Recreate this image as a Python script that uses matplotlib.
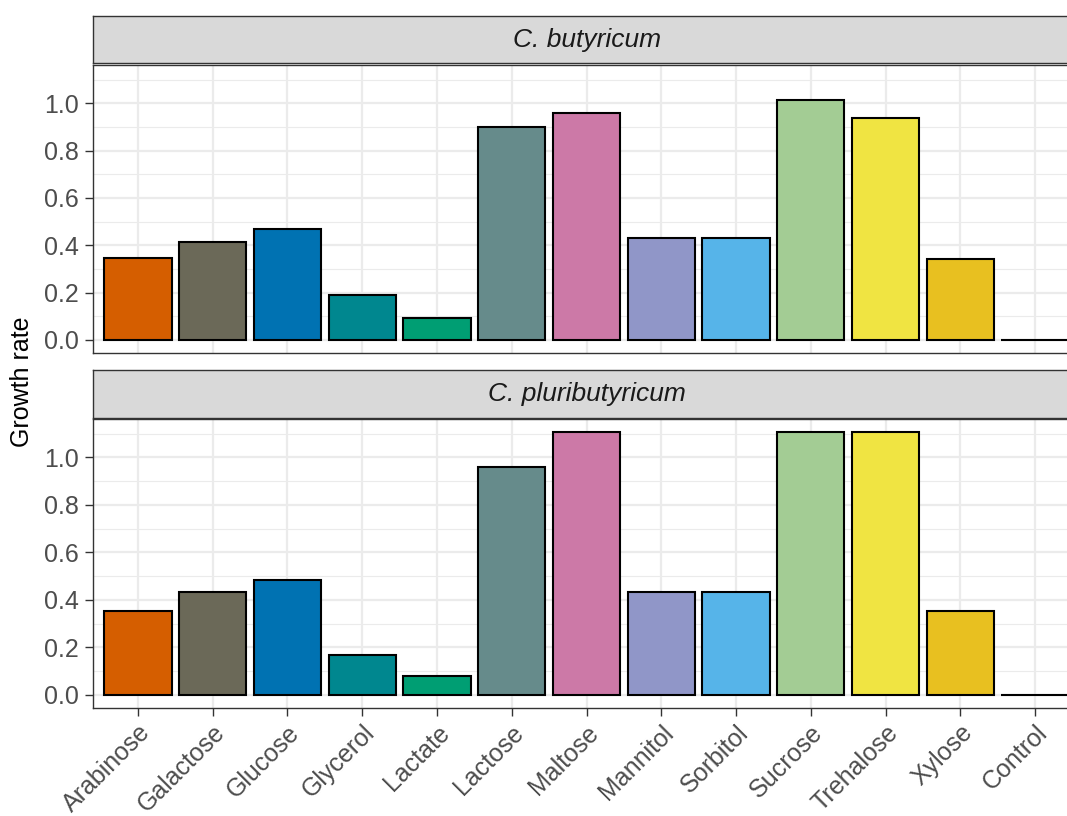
import matplotlib.pyplot as plt

plt.rcParams['font.family'] = ['Liberation Sans', 'DejaVu Sans']

substrates = ["Arabinose", "Galactose", "Glucose", "Glycerol", "Lactate", "Lactose",
              "Maltose", "Mannitol", "Sorbitol", "Sucrose", "Trehalose", "Xylose", "Control"]
butyricum = [0.345, 0.412, 0.471, 0.192, 0.095, 0.899, 0.959, 0.429, 0.431, 1.014, 0.936, 0.343, 0.0]
pluributyricum = [0.352, 0.433, 0.482, 0.167, 0.081, 0.961, 1.107, 0.433, 0.433, 1.107, 1.107, 0.352, 0.0]
colors = ["#D55E00", "#6B6958", "#0072B2", "#00878F", "#009E73", "#668B8B", "#CC79A7",
          "#9096C8", "#56B4E9", "#A3CC94", "#F0E442", "#E8C020", "#000000"]
species = ["C. butyricum", "C. pluributyricum"]

fig = plt.figure(figsize=(10.67, 8.16), dpi=100)

left = 93 / 1067
width = (1080 - 93) / 1067
H = 816


def frac(top_px, bottom_px):
    return 1 - bottom_px / H, (bottom_px - top_px) / H


panels = [((65, 353), (16, 63), butyricum), ((419, 708), (370, 418), pluributyricum)]
x = list(range(len(substrates)))

for i, ((pt, pb), (st, sb), values) in enumerate(panels):
    b, h = frac(pt, pb)
    ax = fig.add_axes([left, b, width, h])
    ax.bar(x, values, width=0.9, color=colors, edgecolor="black", linewidth=1.5, zorder=3)
    ax.set_xlim(-0.6, 12.6)
    ax.set_ylim(-0.055, 1.162)
    ax.set_yticks([0.0, 0.2, 0.4, 0.6, 0.8, 1.0])
    ax.set_yticks([0.1, 0.3, 0.5, 0.7, 0.9, 1.1], minor=True)
    ax.set_yticklabels(["0.0", "0.2", "0.4", "0.6", "0.8", "1.0"])
    ax.set_xticks(x)
    ax.grid(True, which="major", color="#EBEBEB", linewidth=1.6, zorder=0)
    ax.grid(True, which="minor", axis="y", color="#EBEBEB", linewidth=0.8, zorder=0)
    ax.set_axisbelow(True)
    for s in ax.spines.values():
        s.set_color("#333333")
        s.set_linewidth(1.0)
    ax.tick_params(axis="y", which="major", length=6, width=1.0, color="#333333",
                   labelsize=18, labelcolor="#4D4D4D", pad=4)
    ax.tick_params(axis="y", which="minor", length=0)
    if i == 0:
        ax.tick_params(axis="x", length=0, labelbottom=False)
    else:
        ax.tick_params(axis="x", length=6, width=1.0, color="#333333",
                       labelsize=18, labelcolor="#4D4D4D", pad=3)
        ax.set_xticklabels(substrates, rotation=45, ha="right", rotation_mode="anchor")

    sb_, sh = frac(st, sb)
    sax = fig.add_axes([left, sb_, width, sh])
    sax.set_facecolor("#D9D9D9")
    sax.set_xticks([])
    sax.set_yticks([])
    for s in sax.spines.values():
        s.set_color("#333333")
        s.set_linewidth(1.0)
    sax.text((587 - 93) / (1080 - 93), 0.5, species[i], style="italic", fontsize=19,
             color="#1A1A1A", ha="center", va="center", transform=sax.transAxes)

fig.text(22 / 1067, 1 - 382 / H, "Growth rate", rotation=90, fontsize=18,
         ha="center", va="center", color="black")

fig.savefig("out.png", dpi=100)
